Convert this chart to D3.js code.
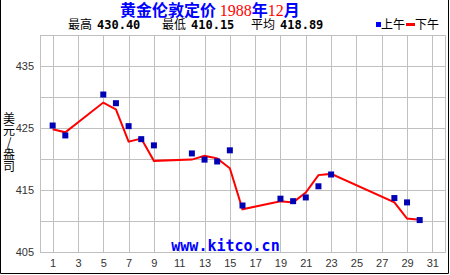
<!DOCTYPE html>
<html>
<head>
<meta charset="utf-8">
<script src="https://cdn.jsdelivr.net/npm/d3@7"></script>
<style>
  body { margin: 0; background: #fff; }
  svg { display: block; }
  .tick text { font-family: "Liberation Sans", Arial, sans-serif; font-size: 11px; fill: #333; }
</style>
</head>
<body>
<div id="chart"></div>
<script>
// London gold fix, Dec 1988
const amDays = [1, 2, 5, 6, 7, 8, 9, 12, 13, 14, 15, 16, 19, 20, 21, 22, 23, 28, 29, 30];
const amPrices = [425.4, 423.8, 430.4, 429.0, 425.3, 423.2, 422.2, 420.9, 419.9, 419.6,
    421.4, 412.5, 413.6, 413.2, 413.8, 415.6, 417.5, 413.7, 413.0, 410.15];
const pmDays = [1, 2, 5, 6, 7, 8, 9, 12, 13, 14, 15, 16, 19, 20, 21, 22, 23, 28, 29, 30];
const pmPrices = [424.8, 424.3, 429.1, 428.0, 422.8, 423.3, 419.7, 419.9, 420.5, 420.1,
    418.5, 411.9, 413.2, 413.0, 414.6, 417.4, 417.6, 413.0, 410.4, 410.2];
const xTicks = d3.range(1, 32, 2);
const yTicks = [405, 415, 425, 435];
const stats = [
    { label: '最高', value: '430.40' },
    { label: '最低', value: '410.15' },
    { label: '平均', value: '418.89' }
];

const width = 450, height = 275;
const margin = { top: 35, right: 5, bottom: 23, left: 40 };

const svg = d3.select('#chart').append('svg')
    .attr('width', width)
    .attr('height', height);

// outer frame (left, right, bottom)
svg.append('path')
    .attr('d', `M0.5,0 V${height - 1.5} H${width - 1.5} V0`)
    .attr('fill', 'none')
    .attr('stroke', '#000');

const x = d3.scaleLinear()
    .domain([0, 32])
    .range([margin.left, width - margin.right]);

const y = d3.scaleLinear()
    .domain([405, 440])
    .range([height - margin.bottom, margin.top]);

// grid
const grid = svg.append('g').attr('stroke', '#c0c0c0').attr('stroke-width', 1);
grid.selectAll('.vg')
    .data(xTicks)
    .join('line')
    .attr('x1', d => Math.round(x(d)) + 0.5)
    .attr('x2', d => Math.round(x(d)) + 0.5)
    .attr('y1', y(440))
    .attr('y2', y(405));
grid.selectAll('.hg')
    .data(d3.range(405, 441, 5))
    .join('line')
    .attr('x1', x(0))
    .attr('x2', x(32))
    .attr('y1', d => Math.round(y(d)) + 0.5)
    .attr('y2', d => Math.round(y(d)) + 0.5);
grid.append('rect')
    .attr('x', x(0) + 0.5)
    .attr('y', y(440) + 0.5)
    .attr('width', x(32) - x(0))
    .attr('height', y(405) - y(440))
    .attr('fill', 'none');

// axes
svg.append('g')
    .attr('transform', `translate(0,${y(405) + 2})`)
    .call(d3.axisBottom(x).tickValues(xTicks).tickSize(0).tickPadding(5))
    .call(g => g.select('.domain').remove());

svg.append('g')
    .attr('transform', `translate(${x(0) - 4},0)`)
    .call(d3.axisLeft(y).tickValues(yTicks).tickSize(0).tickPadding(2))
    .call(g => g.select('.domain').remove());

// watermark
svg.append('text')
    .attr('x', 225.5)
    .attr('y', y(405) - 1)
    .attr('text-anchor', 'middle')
    .attr('font-family', '"DejaVu Sans Mono", monospace')
    .attr('font-weight', 'bold')
    .attr('font-size', 15)
    .attr('fill', '#0000ff')
    .text('www.kitco.cn');

// PM line
const pm = pmDays.map((d, i) => ({ day: d, price: pmPrices[i] }));
svg.append('path')
    .datum(pm)
    .attr('fill', 'none')
    .attr('stroke', '#ff0000')
    .attr('stroke-width', 2)
    .attr('d', d3.line().x(d => x(d.day)).y(d => y(d.price)));

// AM squares
const am = amDays.map((d, i) => ({ day: d, price: amPrices[i] }));
svg.append('g')
    .selectAll('rect')
    .data(am)
    .join('rect')
    .attr('x', d => x(d.day) - 3)
    .attr('y', d => y(d.price) - 3)
    .attr('width', 6)
    .attr('height', 6)
    .attr('fill', '#0000b4');

// title
const title = svg.append('text')
    .attr('x', 120)
    .attr('y', 16)
    .attr('font-size', 16)
    .attr('font-weight', 'bold')
    .attr('font-family', '"Noto Sans CJK SC", sans-serif');
title.append('tspan').attr('fill', '#0000ff').text('黄金伦敦定价 ');
title.append('tspan').attr('fill', '#ff0000').attr('font-weight', 'normal')
    .attr('font-family', '"Liberation Serif", serif').text('1988');
title.append('tspan').attr('fill', '#0000ff').text('年');
title.append('tspan').attr('fill', '#ff0000').attr('font-weight', 'normal')
    .attr('font-family', '"Liberation Serif", serif').text('12');
title.append('tspan').attr('fill', '#0000ff').text('月');

// stats line
const statX = [68, 162, 251];
const st = svg.append('g');
stats.forEach((s, i) => {
    st.append('text')
        .attr('x', statX[i])
        .attr('y', 29)
        .attr('font-size', 12)
        .attr('font-family', '"Noto Sans CJK SC", sans-serif')
        .text(s.label);
    st.append('text')
        .attr('x', statX[i] + 29)
        .attr('y', 29)
        .attr('font-size', 12)
        .attr('font-weight', 'bold')
        .attr('font-family', '"DejaVu Sans Mono", monospace')
        .text(s.value);
});

// legend
const lg = svg.append('g');
lg.append('rect').attr('x', 376).attr('y', 22).attr('width', 5).attr('height', 5).attr('fill', '#0000ff');
lg.append('text').attr('x', 381).attr('y', 29).attr('font-size', 12)
    .attr('font-family', '"Noto Sans CJK SC", sans-serif').text('上午');
lg.append('line').attr('x1', 406).attr('x2', 415).attr('y1', 24.5).attr('y2', 24.5)
    .attr('stroke', '#ff0000').attr('stroke-width', 3);
lg.append('text').attr('x', 415).attr('y', 29).attr('font-size', 12)
    .attr('font-family', '"Noto Sans CJK SC", sans-serif').text('下午');

// y label, stacked vertically
const ylab = svg.append('text')
    .attr('font-size', 12)
    .attr('font-family', '"Noto Sans CJK SC", sans-serif')
    .attr('text-anchor', 'middle');
['美', '元', '/', '盎', '司'].forEach((c, i) => {
    ylab.append('tspan').attr('x', 9).attr('y', 123 + i * 12).text(c);
});
</script>
</body>
</html>
